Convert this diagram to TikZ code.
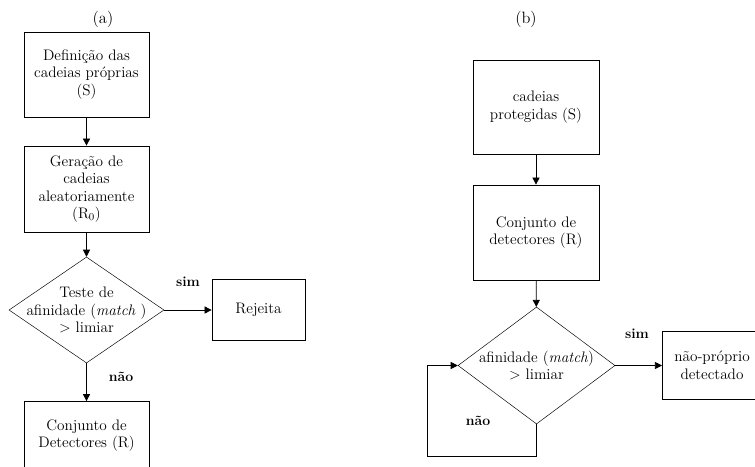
\documentclass[tikz,border=0pt]{standalone}
\usepackage{tikz}
\usetikzlibrary{shapes, arrows.meta, positioning, calc}

\tikzset{
  base/.style={font=\fontsize{13}{15}\selectfont},
  box/.style={base, draw, line width=0.6pt, align=center, inner sep=2pt},
  decision/.style={draw, diamond, line width=0.4pt, inner sep=0pt},
  txt/.style={base, align=center},
  tag/.style={font=\fontsize{14}{16}\selectfont},
  answer/.style={font=\fontsize{12}{14}\selectfont\bfseries},
  flow/.style={-{Triangle[length=6pt, width=6pt]}, line width=0.6pt},
}

\begin{document}
\begin{tikzpicture}[x=0.03cm, y=-0.03cm]
  \clip (0,0) rectangle (755,466);

  % (a) negative selection
  \node[tag] (lbla) at (103,19) {(a)};
  \node[box, minimum width=3.75cm, minimum height=2.55cm] (def) at (86.5,74.5)
    {Defini\c{c}\~ao das\\cadeias pr\'oprias\\(S)};
  \node[box, minimum width=3.75cm, minimum height=2.58cm] (ger) at (86.5,189)
    {Gera\c{c}\~ao de\\cadeias\\aleatoriamente\\(R$_0$)};
  \node[decision, minimum width=4.65cm, minimum height=3.18cm] (teste) at (86.5,310) {};
  \node[txt] (testet) at (teste) {Teste de\\afinidade (\textit{match} )\\> limiar};
  \node[box, minimum width=2.79cm, minimum height=1.83cm] (rej) at (258.5,310) {Rejeita};
  \node[box, minimum width=3.75cm, minimum height=2.04cm] (det) at (86.5,435.5)
    {Conjunto de\\Detectores (R)};

  \draw[flow] (def) -- (ger);
  \draw[flow] (ger) -- (teste);
  \draw[flow] (teste.east) -- (rej.west);
  \draw[flow] (teste) -- (det);
  \node[answer] (sima) at (188,282) {sim};
  \node[answer] (naoa) at (121,377) {n\~ao};

  % (b) monitoring
  \node[tag] (lblb) at (526,19) {(b)};
  \node[box, minimum width=3.78cm, minimum height=2.82cm] (prot) at (536,107)
    {cadeias\\protegidas (S)};
  \node[box, minimum width=3.78cm, minimum height=2.85cm] (conj) at (536,232.5)
    {Conjunto de\\detectores (R)};
  \node[decision, minimum width=4.71cm, minimum height=3.51cm] (afin) at (536.5,365.5) {};
  \node[txt] (afint) at (afin) {afinidade (\textit{match})\\> limiar};
  % cut off at the right edge
  \node[base, anchor=west, inner sep=0pt, minimum width=3.4cm, minimum height=2.01cm] (nprop) at (662,365.5) {};
  \draw[line width=0.6pt] (nprop.north east) -| (nprop.south west) -- (nprop.south east);
  \node[txt] (npropt) at (712,365.5) {n\~ao-pr\'oprio\\detectado};
  \coordinate (loop) at (427,456);

  \draw[flow] (prot) -- (conj);
  \draw[flow] (conj) -- (afin);
  \draw[flow] (afin.east) -- (nprop.west);
  \draw[flow] (afin.south) |- (loop) |- (afin.west);
  \node[answer] (simb) at (637,334) {sim};
  \node[answer] (naob) at (478,421) {n\~ao};
\end{tikzpicture}
\end{document}
